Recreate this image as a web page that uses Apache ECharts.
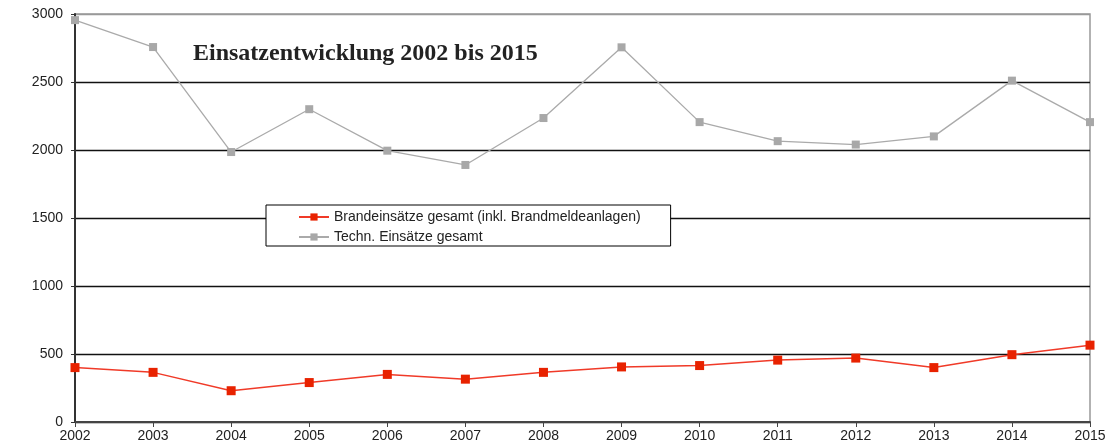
<!DOCTYPE html>
<html>
<head>
<meta charset="utf-8">
<script src="https://cdn.jsdelivr.net/npm/echarts@6/dist/echarts.min.js"></script>
<style>html,body{margin:0;padding:0;background:#fff;}#c{width:1119px;height:441px;}</style>
</head>
<body>
<div id="c"></div>
<script>
const years = ['2002','2003','2004','2005','2006','2007','2008','2009','2010','2011','2012','2013','2014','2015'];
const brand = [400, 365, 230, 290, 350, 315, 365, 405, 415, 455, 470, 400, 495, 565];
const techn = [2955, 2757, 1985, 2300, 1995, 1890, 2235, 2755, 2205, 2065, 2040, 2100, 2510, 2205];
const yTicks = [0, 500, 1000, 1500, 2000, 2500, 3000];
const titleText = 'Einsatzentwicklung 2002 bis 2015';
const nameBrand = 'Brandeinsätze gesamt (inkl. Brandmeldeanlagen)';
const nameTechn = 'Techn. Einsätze gesamt';

const chart = echarts.init(document.getElementById('c'));
chart.setOption({
  animation: false,
  backgroundColor: '#fff',
  title: {
    text: titleText, left: 193, top: 42, padding: 0,
    textStyle: {fontFamily: 'Liberation Serif', fontWeight: 'bold', fontSize: 24, color: '#222'}
  },
  legend: {
    orient: 'vertical', left: 266, top: 205,
    padding: [4, 30, 1, 32], itemGap: 4, itemWidth: 30, itemHeight: 9,
    backgroundColor: '#fff', borderColor: '#000', borderWidth: 1, borderRadius: 0,
    textStyle: {fontFamily: 'Liberation Sans', fontSize: 14, color: '#222', lineHeight: 16, padding: [0,0,0,0]},
    data: [nameBrand, nameTechn]
  },
  grid: {left: 75, right: 29, top: 14, bottom: 19, outerBoundsMode: 'none', containLabel: false,
    show: true, borderColor: '#999', borderWidth: 1.5, backgroundColor: 'transparent'},
  xAxis: {
    type: 'category', data: years, boundaryGap: false,
    axisLine: {lineStyle: {color: '#444', width: 2}},
    axisTick: {show: true, length: 5, lineStyle: {color: '#444'}},
    axisLabel: {fontFamily: 'Liberation Sans', fontSize: 14, color: '#222', margin: 7,
      interval: 0, showMinLabel: true, showMaxLabel: true},
    splitLine: {show: false}
  },
  yAxis: {
    type: 'value', min: yTicks[0], max: yTicks[yTicks.length-1], interval: 500,
    axisLine: {show: true, lineStyle: {color: '#333', width: 2}},
    axisTick: {show: true, length: 4, lineStyle: {color: '#333'}},
    axisLabel: {fontFamily: 'Liberation Sans', fontSize: 14, color: '#222', margin: 12,
      formatter: v => String(v)},
    splitLine: {show: true, lineStyle: {color: ['#111','#111','#111','#111','#111','#111','#999'], width: 1.4}}
  },
  series: [
    {
      name: nameBrand, type: 'line', data: brand,
      symbol: 'rect', symbolSize: 9, clip: false,
      lineStyle: {color: '#f03a28', width: 1.5},
      itemStyle: {color: '#e82200'}, z: 3
    },
    {
      name: nameTechn, type: 'line', data: techn,
      symbol: 'rect', symbolSize: 8, clip: false,
      lineStyle: {color: '#aaaaaa', width: 1.3},
      itemStyle: {color: '#a8a8a8'}, z: 2
    }
  ]
});
</script>
</body>
</html>
